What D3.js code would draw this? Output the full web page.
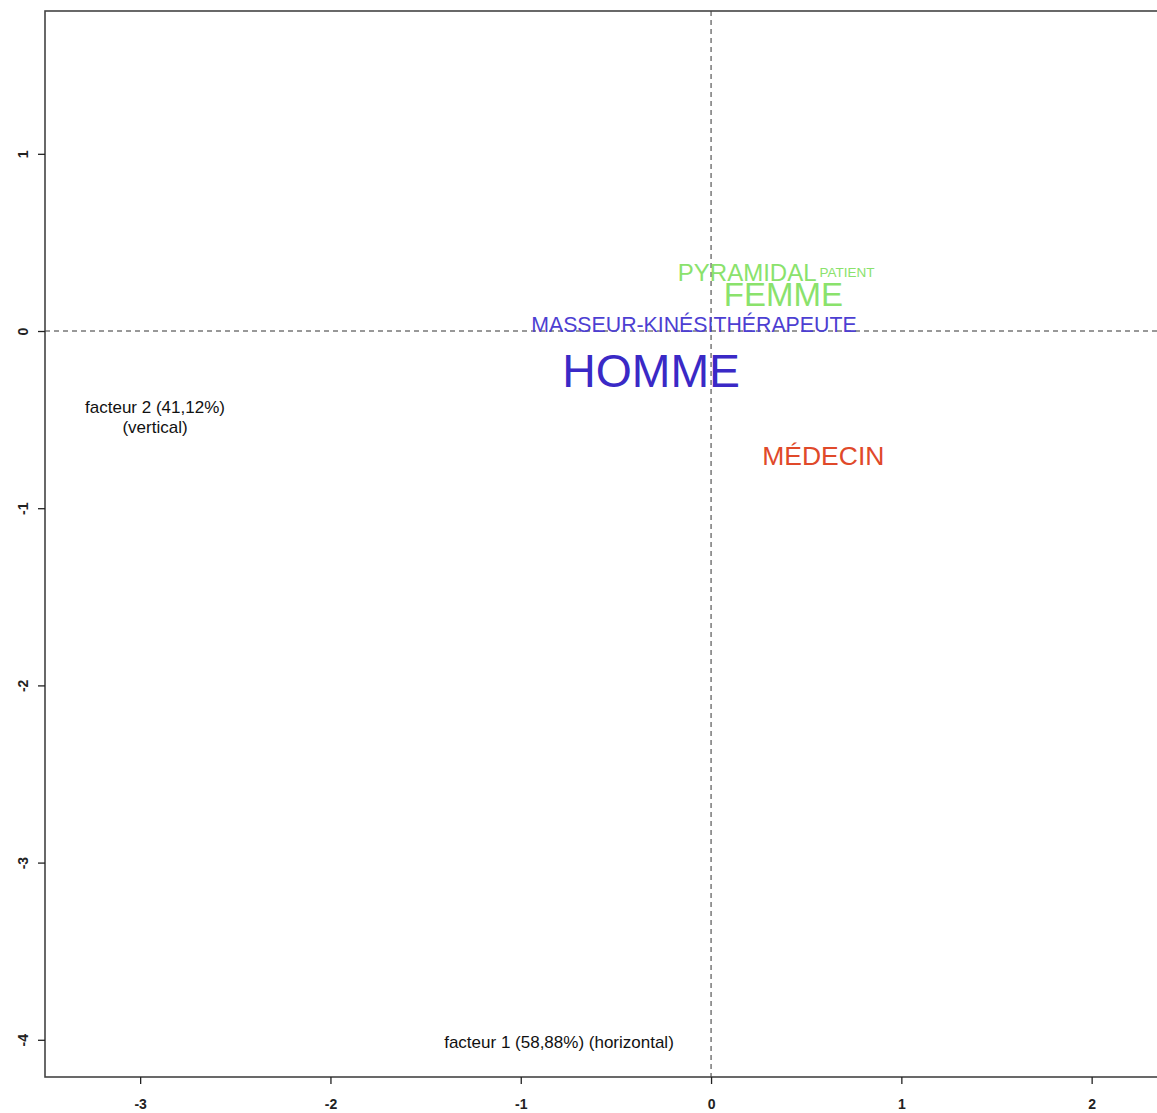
<!DOCTYPE html>
<html>
<head>
    <meta charset="utf-8">
    <style>
        body { margin: 0; background: #fff; }
        text { font-family: "Liberation Sans", Arial, sans-serif; }
    </style>
</head>
<body>
    <svg width="1157" height="1113"></svg>
    <script src="https://d3js.org/d3.v7.min.js"></script>
    <script>
        // modalities on the factorial plane
        let labels = ["PYRAMIDAL", "PATIENT", "FEMME", "MASSEUR-KINÉSITHÉRAPEUTE", "HOMME", "MÉDECIN"];
        let factor1 = [0.19, 0.715, 0.38, -0.09, -0.315, 0.59];
        let factor2 = [0.33, 0.33, 0.21, 0.04, -0.22, -0.70];
        let weights = [24, 13.5, 33, 21.3, 46.4, 26.5];
        let colors = ["#8ae26c", "#8ae26c", "#8ae26c", "#4d3fd2", "#3a29c6", "#e0492a"];
        let xTicks = [-3, -2, -1, 0, 1, 2];
        let yTicks = [-4, -3, -2, -1, 0, 1];

        let svg = d3.select("svg");
        let plotLeft = 45, plotTop = 11, plotBottom = 1077;
        let x = d3.scaleLinear().domain([-3.5, 2.5]).range([plotLeft, plotLeft + 6 * 190.3]);
        let y = d3.scaleLinear().domain([-4.21, 1.806]).range([plotBottom, plotTop]);

        // zero lines
        svg.append("line")
            .attr("x1", x(0)).attr("x2", x(0))
            .attr("y1", plotTop).attr("y2", plotBottom)
            .attr("stroke", "#333").attr("stroke-dasharray", "5,4");
        svg.append("line")
            .attr("x1", plotLeft).attr("x2", x(2.5))
            .attr("y1", y(0)).attr("y2", y(0))
            .attr("stroke", "#333").attr("stroke-dasharray", "5,4");

        // box
        svg.append("rect")
            .attr("x", plotLeft).attr("y", plotTop)
            .attr("width", x(2.5) - plotLeft).attr("height", plotBottom - plotTop)
            .attr("fill", "none").attr("stroke", "#444").attr("stroke-width", 1.6);

        let xAxis = svg.append("g")
            .attr("transform", `translate(0,${plotBottom})`)
            .call(d3.axisBottom(x).tickValues(xTicks).tickSize(7).tickPadding(15).tickFormat(d => String(d)));
        xAxis.select(".domain").remove();
        xAxis.selectAll("line").attr("stroke", "#222").attr("stroke-width", 1.3);
        xAxis.selectAll("text").attr("font-size", 14).attr("font-weight", "bold").attr("fill", "#222");

        let yAxis = svg.append("g")
            .attr("transform", `translate(${plotLeft},0)`)
            .call(d3.axisLeft(y).tickValues(yTicks).tickSize(7).tickFormat(d => String(d)));
        yAxis.select(".domain").remove();
        yAxis.selectAll("line").attr("stroke", "#222").attr("stroke-width", 1.3);
        yAxis.selectAll("text")
            .attr("x", null)
            .attr("text-anchor", "middle")
            .attr("transform", "translate(-22,0) rotate(-90)")
            .attr("dy", "0.35em")
            .attr("font-size", 14).attr("font-weight", "bold").attr("fill", "#222");

        // factor captions
        svg.append("text")
            .attr("x", 155).attr("y", 413)
            .attr("text-anchor", "middle").attr("font-size", 17).attr("fill", "#111")
            .text("facteur 2 (41,12%)");
        svg.append("text")
            .attr("x", 155).attr("y", 433)
            .attr("text-anchor", "middle").attr("font-size", 17).attr("fill", "#111")
            .text("(vertical)");
        svg.append("text")
            .attr("x", 559).attr("y", 1048)
            .attr("text-anchor", "middle").attr("font-size", 17).attr("fill", "#111")
            .text("facteur 1 (58,88%) (horizontal)");

        // modality labels
        svg.append("g")
            .selectAll("text")
            .data(labels)
            .enter()
            .append("text")
            .attr("x", (d, i) => x(factor1[i]))
            .attr("y", (d, i) => y(factor2[i]))
            .attr("dy", "0.36em")
            .attr("text-anchor", "middle")
            .attr("font-size", (d, i) => weights[i])
            .attr("fill", (d, i) => colors[i])
            .text(d => d);
    </script>
</body>
</html>
